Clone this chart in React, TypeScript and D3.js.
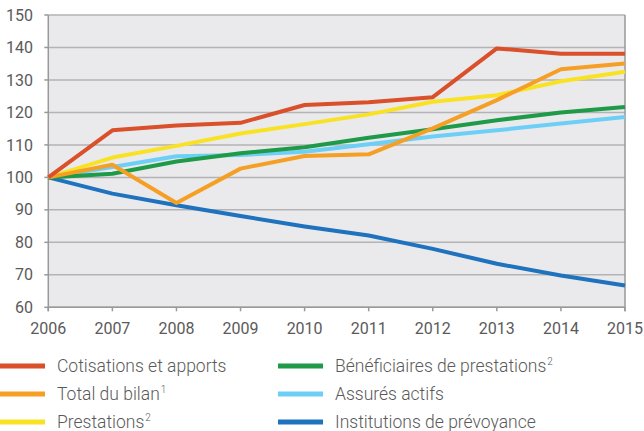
import React from "react";
import * as d3 from "d3";

const years = [2006, 2007, 2008, 2009, 2010, 2011, 2012, 2013, 2014, 2015];
const yTicks = [60, 70, 80, 90, 100, 110, 120, 130, 140, 150];

const cotisations = [100, 114.5, 116, 116.8, 122.3, 123.1, 124.7, 139.7, 138.1, 138.1];
const totalBilan = [100, 103.9, 92.1, 102.7, 106.6, 107.1, 115.1, 123.8, 133.3, 135.1];
const prestations = [100, 106.1, 109.7, 113.5, 116.4, 119.4, 123.3, 125.3, 129.6, 132.5];
const beneficiaires = [100, 101.1, 104.9, 107.4, 109.3, 112.2, 114.8, 117.6, 120, 121.7];
const assures = [100, 103.2, 106.5, 106.9, 107.9, 110.2, 112.6, 114.5, 116.6, 118.6];
const institutions = [100, 95, 91.4, 88.1, 84.9, 82.1, 78, 73.4, 69.8, 66.7];

const seriesNames = [
  "Cotisations et apports",
  "Total du bilan",
  "Prestations",
  "Bénéficiaires de prestations",
  "Assurés actifs",
  "Institutions de prévoyance",
];
const seriesSup = ["", "1", "2", "2", "", ""];
const seriesValues = [cotisations, totalBilan, prestations, beneficiaires, assures, institutions];
const seriesColors = ["#D9502A", "#F5A025", "#F9E124", "#1E9A48", "#6DCFF6", "#1F72BE"];
// drawing order (back to front)
const drawOrder = [5, 4, 3, 2, 1, 0];

export default function App() {
  const W = 644;
  const H = 431;
  const left = 48.3;
  const right = 625;
  const top = 15;
  const bottom = 307.3;
  const x = d3.scaleLinear().domain([2006, 2015]).range([left, right]);
  const y = d3.scaleLinear().domain([60, 150]).range([bottom, top]);
  const line = d3
    .line<number>()
    .x((_, i) => x(years[i]))
    .y((d) => y(d));
  const font = "Roboto, 'Noto Sans', sans-serif";
  const textColor = "#5a5a5a";
  const legendRows = [366, 394, 422];
  const legendCols = [0, 278];

  return (
    <svg
      width={W}
      height={H}
      style={{ position: "absolute", left: 0, top: 0, display: "block" }}
      fontFamily={font}
    >
      <rect x={left} y={top} width={right - left} height={bottom - top} fill="#EAEAEC" />
      {yTicks.map((t) => (
        <g key={t}>
          <line x1={left} x2={right} y1={y(t)} y2={y(t)} stroke="#B3B3B5" strokeWidth={1.5} />
          <line x1={left - 4} x2={left} y1={y(t)} y2={y(t)} stroke="#999" strokeWidth={1.5} />
          <text
            x={33}
            y={y(t)}
            dy="0.35em"
            textAnchor="end"
            fontSize={16}
            fill={textColor}
          >
            {t}
          </text>
        </g>
      ))}
      <line x1={left} x2={left} y1={top} y2={bottom + 4} stroke="#999" strokeWidth={1.5} />
      <line x1={right} x2={right} y1={top} y2={bottom + 4} stroke="#999" strokeWidth={1.5} />
      <line x1={left} x2={right} y1={bottom} y2={bottom} stroke="#999" strokeWidth={1.5} />
      {years.map((yr) => (
        <g key={yr}>
          <line x1={x(yr)} x2={x(yr)} y1={bottom} y2={bottom + 4} stroke="#999" strokeWidth={1.5} />
          <text x={x(yr)} y={333.5} textAnchor="middle" fontSize={16} fill={textColor}>
            {yr}
          </text>
        </g>
      ))}
      {drawOrder.map((i) => (
        <path
          key={i}
          d={line(seriesValues[i]) || ""}
          fill="none"
          stroke={seriesColors[i]}
          strokeWidth={4}
          strokeLinejoin="round"
        />
      ))}
      {seriesNames.map((name, i) => {
        const col = Math.floor(i / 3);
        const row = i % 3;
        const lx = legendCols[col];
        const ly = legendRows[row];
        return (
          <g key={name}>
            <line x1={lx} x2={lx + 45} y1={ly} y2={ly} stroke={seriesColors[i]} strokeWidth={5} />
            <text
              x={lx + 57}
              y={ly}
              dy="0.36em"
              fontSize={17.5}
              fontWeight={300}
              fill={textColor}
            >
              {name}
              {seriesSup[i] && (
                <tspan fontSize={10} dy="-0.75em" dx="1">
                  {seriesSup[i]}
                </tspan>
              )}
            </text>
          </g>
        );
      })}
    </svg>
  );
}
